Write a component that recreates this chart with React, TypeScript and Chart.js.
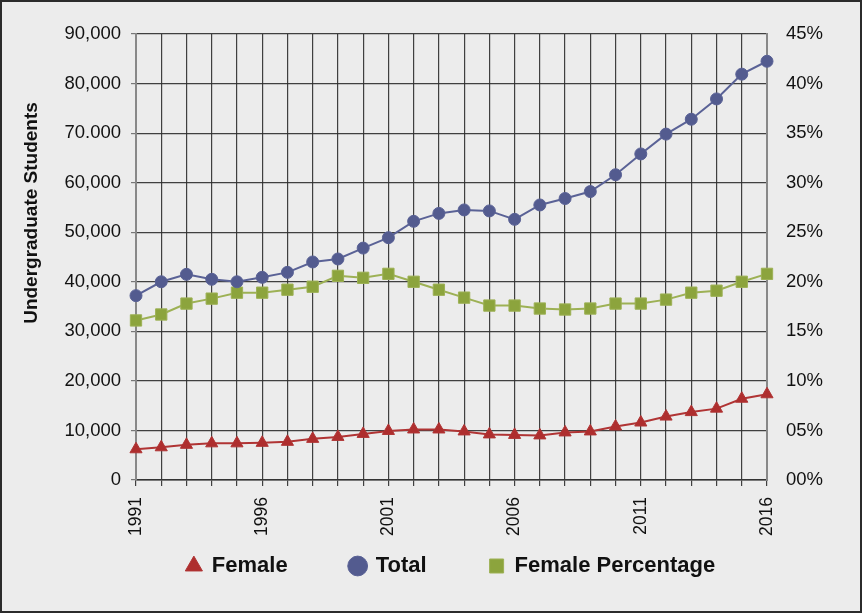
import React, { useEffect, useRef } from "react";
import { Chart, registerables } from "chart.js";

Chart.register(...registerables);

const years = [
  "1991", "1992", "1993", "1994", "1995", "1996", "1997", "1998", "1999", "2000",
  "2001", "2002", "2003", "2004", "2005", "2006", "2007", "2008", "2009", "2010",
  "2011", "2012", "2013", "2014", "2015", "2016",
];
const shownYears = ["1991", "1996", "2001", "2006", "2011", "2016"];

const female = [
  6200, 6600, 7100, 7400, 7400, 7500, 7700, 8300, 8700, 9300,
  9900, 10200, 10200, 9800, 9200, 9100, 9000, 9600, 9800, 10800,
  11600, 12800, 13700, 14400, 16400, 17300,
];
const total = [
  37200, 40000, 41500, 40500, 40000, 40900, 41900, 44000, 44600, 46800,
  48900, 52200, 53800, 54500, 54300, 52600, 55500, 56800, 58200, 61600,
  65800, 69800, 72800, 76900, 81900, 84500,
];
const femalePct = [
  16.1, 16.7, 17.8, 18.3, 18.9, 18.9, 19.2, 19.5, 20.6, 20.4,
  20.8, 20.0, 19.2, 18.4, 17.6, 17.6, 17.3, 17.2, 17.3, 17.8,
  17.8, 18.2, 18.9, 19.1, 20.0, 20.8,
];

const leftTicks = ["0", "10,000", "20,000", "30,000", "40,000", "50,000", "60,000", "70.000", "80,000", "90,000"];
const rightTicks = ["00%", "05%", "10%", "15%", "20%", "25%", "30%", "35%", "40%", "45%"];

const FONT = "'Liberation Sans', Arial, Helvetica, sans-serif";
const GRID = "rgba(45,45,45,0.9)";
const TEXT = "#111111";

const bgPlugin = {
  id: "bgPlugin",
  beforeDraw(chart: any) {
    const ctx = chart.ctx;
    ctx.save();
    ctx.fillStyle = "#ececec";
    ctx.fillRect(0, 0, chart.width, chart.height);
    ctx.restore();
  },
  afterDraw(chart: any) {
    const ctx = chart.ctx;
    ctx.save();
    ctx.strokeStyle = "#2b2b2b";
    ctx.lineWidth = 2;
    ctx.strokeRect(1, 1, chart.width - 2, chart.height - 2);
    ctx.translate(32, 213);
    ctx.rotate(-Math.PI / 2);
    ctx.fillStyle = TEXT;
    ctx.font = `bold 19px ${FONT}`;
    ctx.textAlign = "center";
    ctx.textBaseline = "middle";
    ctx.fillText("Undergraduate Students", 0, 0);
    ctx.restore();
  },
};

export default function App() {
  const ref = useRef<HTMLCanvasElement | null>(null);

  useEffect(() => {
    if (!ref.current) return;
    const chart = new Chart(ref.current, {
      type: "line",
      data: {
        labels: years,
        datasets: [
          {
            label: "Female",
            data: female,
            yAxisID: "y",
            borderColor: "#b03434",
            backgroundColor: "#ae2e2e",
            pointStyle: "triangle",
            pointRadius: 7,
            pointBorderWidth: 1,
            borderWidth: 2,
            tension: 0,
          },
          {
            label: "Total",
            data: total,
            yAxisID: "y",
            borderColor: "#5a6296",
            backgroundColor: "#535b8f",
            pointStyle: "circle",
            pointRadius: 6,
            pointBorderWidth: 1,
            borderWidth: 2,
            tension: 0,
          },
          {
            label: "Female Percentage",
            data: femalePct,
            yAxisID: "y1",
            borderColor: "#9db155",
            backgroundColor: "#8ca43d",
            pointStyle: "rect",
            pointRadius: 8,
            pointBorderWidth: 1,
            borderWidth: 2,
            tension: 0,
          },
        ],
      },
      options: {
        animation: false,
        responsive: false,
        layout: { padding: { top: 34, left: 40, right: 0, bottom: 26 } },
        plugins: {
          legend: {
            position: "bottom",
            labels: {
              usePointStyle: true,
              boxWidth: 14,
              boxHeight: 14,
              padding: 19,
              color: TEXT,
              font: { family: FONT, size: 22, weight: "bold" },
              generateLabels: (c: any) => {
                const base = (Chart.defaults as any).plugins.legend.labels.generateLabels(c);
                const out: any[] = [];
                base.forEach((item: any, i: number) => {
                  if (i > 0) {
                    out.push({
                      text: "",
                      fillStyle: "rgba(0,0,0,0)",
                      strokeStyle: "rgba(0,0,0,0)",
                      lineWidth: 0,
                      pointStyle: "circle",
                      hidden: false,
                    });
                  }
                  out.push(item);
                });
                return out;
              },
            },
          },
          tooltip: { enabled: false },
        },
        scales: {
          x: {
            type: "category",
            offset: false,
            afterFit: (s: any) => {
              s.height = 56;
            },
            grid: {
              color: GRID,
              lineWidth: 1.2,
              tickLength: 6,
              offset: false,
              tickColor: GRID,
            },
            border: { color: "#333", width: 1.5 },
            ticks: {
              autoSkip: false,
              minRotation: 90,
              maxRotation: 90,
              padding: 11,
              color: TEXT,
              font: { family: FONT, size: 17.5 },
              callback: (_v: any, i: number) => (shownYears.includes(years[i]) ? years[i] : ""),
            },
          },
          y: {
            position: "left",
            min: 0,
            max: 90000,
            afterFit: (s: any) => {
              s.width = 96;
            },
            grid: { color: GRID, lineWidth: 1.2, tickLength: 5, tickColor: "#777" },
            border: { color: "#888", width: 2 },
            ticks: {
              stepSize: 10000,
              padding: 10,
              color: TEXT,
              font: { family: FONT, size: 18.5 },
              callback: (_v: any, i: number) => leftTicks[i],
            },
          },
          y1: {
            position: "right",
            min: 0,
            max: 45,
            afterFit: (s: any) => {
              s.width = 95;
            },
            grid: { drawOnChartArea: false, drawTicks: false },
            border: { color: "#888", width: 2 },
            ticks: {
              stepSize: 5,
              padding: 19,
              color: TEXT,
              font: { family: FONT, size: 18.5 },
              callback: (_v: any, i: number) => rightTicks[i],
            },
          },
        },
      },
      plugins: [bgPlugin],
    } as any);
    return () => chart.destroy();
  }, []);

  return (
    <div style={{ position: "absolute", left: 0, top: 0, width: 862, height: 613 }}>
      <canvas ref={ref} width={862} height={613} style={{ display: "block" }} />
    </div>
  );
}
